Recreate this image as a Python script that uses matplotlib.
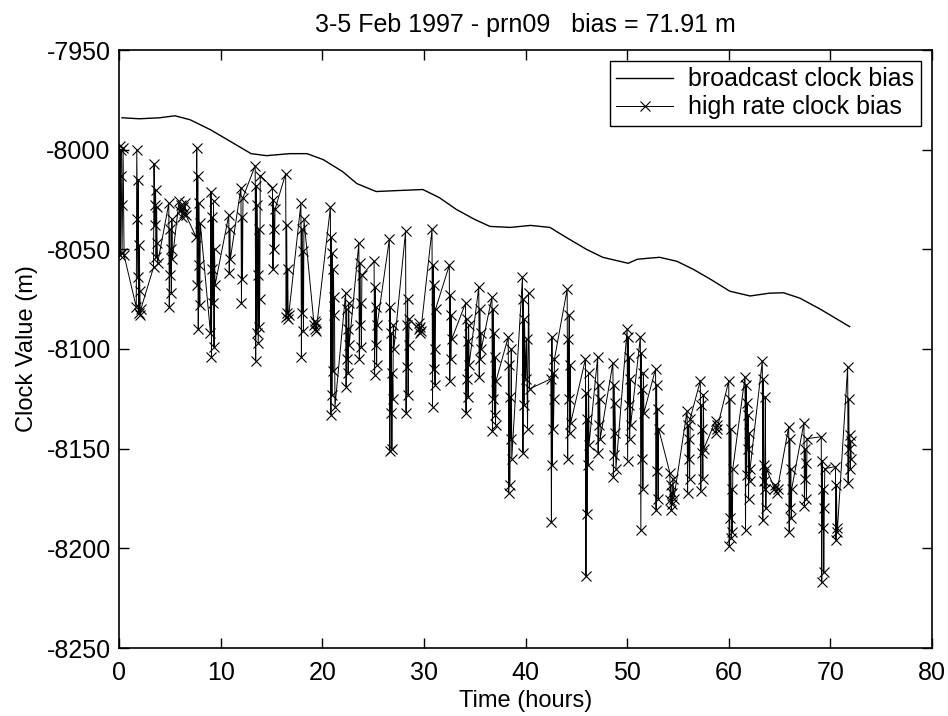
import matplotlib
matplotlib.use("Agg")
import matplotlib.pyplot as plt
from matplotlib.ticker import MultipleLocator

plt.rcParams['font.family'] = ['Liberation Sans', 'DejaVu Sans']
plt.rcParams['axes.unicode_minus'] = False

# broadcast clock bias (hours, metres)
bc_time = [0.3, 2, 4, 5.5, 7, 9, 11, 13, 14.5, 16.8, 18.5, 20.1, 22, 23.4, 25.3,
           27.5, 29.9, 31.5, 33.2, 35, 36.5, 38.5, 40.5, 42.4, 44, 46, 47.6, 50.1,
           51, 52, 53.2, 54.9, 56.5, 58.2, 60.1, 62.1, 64, 65.4, 67, 69, 71.9]
bc_value = [-7984, -7984.5, -7984, -7983, -7985, -7990, -7996, -8002, -8003, -8002,
            -8002, -8005, -8011, -8017, -8021, -8020.5, -8020, -8024, -8030, -8035,
            -8038.5, -8039, -8038, -8039, -8044, -8050, -8054, -8057, -8055, -8054.5,
            -8054, -8056, -8060, -8065, -8071, -8073.4, -8072, -8071.8, -8074.5, -8080,
            -8088.8]

# high rate clock bias (hours, metres)
hr_time = [
    0.05, 0.1, 0.15, 0.2, 0.25, 0.3, 0.4, 0.5,
    1.7, 1.75, 1.8, 1.85, 1.9, 1.95, 2.0, 2.05, 2.1, 2.15,
    3.4, 3.45, 3.5, 3.55, 3.6, 3.65, 3.7, 3.75, 3.8,
    4.9, 4.95, 5.0, 5.05, 5.1, 5.15, 5.2, 5.25,
    5.9, 6.0, 6.1, 6.2, 6.3, 6.4, 6.5, 6.6,
    7.6, 7.65, 7.7, 7.75, 7.8, 7.85, 7.9, 7.95, 8.0,
    9.0, 9.05, 9.1, 9.15, 9.2, 9.25, 9.3, 9.35, 9.4, 9.45,
    10.8, 10.85, 10.9, 10.95,
    12.0, 12.05, 12.1, 12.15, 12.2,
    13.4, 13.45, 13.5, 13.55, 13.6, 13.65, 13.7, 13.75, 13.8, 13.85, 13.9,
    15.1, 15.15, 15.2, 15.25, 15.3, 15.35,
    16.4, 16.45, 16.5, 16.55, 16.6, 16.65, 16.7,
    17.9, 17.95, 18.0, 18.05, 18.1, 18.15, 18.2,
    19.2, 19.25, 19.3, 19.35, 19.4,
    20.8, 20.85, 20.9, 20.95, 21.0, 21.05, 21.1, 21.15, 21.2, 21.25,
    22.3, 22.35, 22.4, 22.45, 22.5, 22.55, 22.6, 22.65,
    23.6, 23.65, 23.7, 23.75, 23.8, 23.85, 23.9,
    25.1, 25.15, 25.2, 25.25, 25.3, 25.35, 25.4,
    26.6, 26.65, 26.7, 26.75, 26.8, 26.85, 26.9, 26.95, 27.0, 27.05,
    28.2, 28.25, 28.3, 28.35, 28.4, 28.45, 28.5, 28.55,
    29.5, 29.55, 29.6, 29.65, 29.7,
    30.8, 30.85, 30.9, 30.95, 31.0, 31.05, 31.1, 31.15,
    32.5, 32.55, 32.6, 32.65, 32.7, 32.75,
    34.1, 34.15, 34.2, 34.25, 34.3, 34.35, 34.4, 34.45,
    35.4, 35.45, 35.5, 35.55, 35.6, 35.65,
    36.7, 36.75, 36.8, 36.85, 36.9, 36.95, 37.0, 37.05, 37.1,
    38.3, 38.35, 38.4, 38.45, 38.5, 38.55, 38.6, 38.65,
    39.7, 39.75, 39.8, 39.85, 39.9, 40.0, 40.1, 40.2, 40.3, 40.4,
    42.5, 42.55, 42.6, 42.65, 42.7, 42.75, 42.8, 42.85,
    44.1, 44.15, 44.2, 44.25, 44.3, 44.35, 44.4, 44.45,
    45.9, 45.95, 46.0, 46.05, 46.1, 46.15, 46.2, 46.25,
    47.1, 47.15, 47.2, 47.25, 47.3, 47.35,
    48.6, 48.65, 48.7, 48.75, 48.8, 48.85, 48.9,
    50.0, 50.05, 50.1, 50.15, 50.2, 50.25, 50.3, 50.35,
    51.3, 51.35, 51.4, 51.45, 51.5, 51.55, 51.6, 51.65,
    52.8, 52.85, 52.9, 52.95, 53.0, 53.05, 53.1,
    54.2, 54.25, 54.3, 54.35, 54.4, 54.45, 54.5, 54.6,
    55.9, 55.95, 56.0, 56.05, 56.1, 56.15, 56.2,
    57.2, 57.25, 57.3, 57.35, 57.4, 57.45, 57.5, 57.55,
    58.7, 58.75, 58.8, 58.85,
    60.0, 60.05, 60.1, 60.15, 60.2, 60.25, 60.3, 60.35, 60.4,
    61.6, 61.65, 61.7, 61.75, 61.8, 61.85, 61.9, 61.95, 62.0, 62.05, 62.1,
    63.3, 63.35, 63.4, 63.45, 63.5, 63.55, 63.6, 63.65, 63.7,
    64.5, 64.6, 64.7, 64.8,
    65.9, 65.95, 66.0, 66.05, 66.1, 66.15, 66.2,
    67.4, 67.45, 67.5, 67.55, 67.6, 67.65, 67.7,
    69.1, 69.15, 69.2, 69.25, 69.3, 69.35, 69.4, 69.45,
    70.5, 70.55, 70.6, 70.65, 70.7,
    71.7, 71.75, 71.8, 71.85, 71.9, 71.95, 72.0, 72.05,
]
hr_value = [
    -7998, -8053, -8013, -8000, -8028, -8052, -7999, -8053,
    -8079, -8000, -8035, -8064, -8015, -8082, -8048, -8071, -8083, -8080,
    -8059, -8007, -8028, -8038, -8020, -8054, -8029, -8047, -8057,
    -8027, -8079, -8040, -8063, -8050, -8072, -8035, -8055,
    -8026, -8031, -8028, -8034, -8029, -8032, -8027, -8033,
    -8044, -7999, -8068, -8013, -8090, -8027, -8058, -8078, -8037,
    -8092, -8021, -8104, -8034, -8060, -8077, -8026, -8099, -8050, -8068,
    -8033, -8062, -8040, -8055,
    -8019, -8077, -8034, -8065, -8024,
    -8008, -8106, -8018, -8092, -8028, -8063, -8097, -8040, -8089, -8075, -8013,
    -8019, -8060, -8025, -8040, -8050, -8030,
    -8012, -8084, -8038, -8082, -8060, -8085, -8083,
    -8027, -8104, -8040, -8082, -8051, -8091, -8035,
    -8088, -8086, -8090, -8087, -8091,
    -8029, -8133, -8044, -8123, -8052, -8111, -8060, -8083, -8074, -8129,
    -8072, -8119, -8080, -8105, -8090, -8112, -8077, -8098,
    -8047, -8105, -8057, -8088, -8077, -8099, -8063,
    -8056, -8113, -8069, -8098, -8079, -8108, -8088,
    -8045, -8151, -8079, -8132, -8092, -8150, -8112, -8125, -8088, -8100,
    -8041, -8132, -8088, -8109, -8075, -8123, -8098, -8085,
    -8090, -8087, -8092, -8089, -8091,
    -8040, -8129, -8058, -8110, -8068, -8100, -8118, -8080,
    -8058, -8116, -8073, -8105, -8083, -8095,
    -8077, -8132, -8085, -8115, -8096, -8124, -8088, -8108,
    -8069, -8114, -8080, -8105, -8092, -8100,
    -8074, -8141, -8080, -8125, -8092, -8133, -8104, -8138, -8116,
    -8094, -8172, -8108, -8168, -8124, -8145, -8100, -8155,
    -8064, -8152, -8075, -8128, -8085, -8115, -8095, -8140, -8072, -8120,
    -8115, -8187, -8094, -8158, -8112, -8140, -8125, -8105,
    -8070, -8155, -8095, -8125, -8083, -8142, -8108, -8137,
    -8105, -8214, -8122, -8183, -8135, -8158, -8112, -8148,
    -8104, -8152, -8118, -8138, -8125, -8145,
    -8107, -8164, -8118, -8153, -8127, -8142, -8160,
    -8090, -8156, -8094, -8128, -8104, -8145, -8115, -8138,
    -8094, -8191, -8102, -8155, -8120, -8170, -8112, -8132,
    -8110, -8181, -8118, -8161, -8130, -8175, -8140,
    -8162, -8176, -8168, -8181, -8172, -8178, -8165, -8175,
    -8131, -8172, -8138, -8155, -8145, -8165, -8135,
    -8116, -8171, -8128, -8152, -8140, -8165, -8123, -8150,
    -8136, -8142, -8138, -8140,
    -8116, -8199, -8125, -8185, -8140, -8195, -8170, -8192, -8160,
    -8114, -8191, -8118, -8163, -8127, -8150, -8133, -8175, -8142, -8166, -8160,
    -8106, -8186, -8115, -8166, -8158, -8170, -8124, -8180, -8160,
    -8170, -8168, -8172, -8170,
    -8139, -8192, -8145, -8180, -8160, -8185, -8170,
    -8137, -8179, -8150, -8165, -8157, -8175, -8145,
    -8144, -8217, -8156, -8190, -8170, -8212, -8180, -8160,
    -8159, -8196, -8168, -8192, -8190,
    -8109, -8167, -8125, -8150, -8143, -8160, -8146, -8155,
]

title_text = "3-5 Feb 1997 - prn09   bias = 71.91 m"

fig = plt.figure(figsize=(9.48, 7.16), dpi=100)
ax = fig.add_axes([119/948, 1 - 648/716, (932 - 119)/948, (648 - 50)/716])

ax.plot(bc_time, bc_value, color='black', linewidth=1.0, label='broadcast clock bias')
ax.plot(hr_time, hr_value, color='black', linewidth=0.7, marker='x', markersize=7,
        markeredgewidth=0.8, label='high rate clock bias')

ax.set_xlim(0, 80)
ax.set_ylim(-8250, -7950)
ax.xaxis.set_major_locator(MultipleLocator(10))
ax.yaxis.set_major_locator(MultipleLocator(50))
ax.tick_params(direction='in', length=7, width=1, top=True, right=True, labelsize=18)
ax.tick_params(axis='x', pad=9)
ax.tick_params(axis='y', pad=6)
for s in ax.spines.values():
    s.set_linewidth(1.2)

ax.set_xlabel('Time (hours)', fontsize=17, labelpad=4)
ax.set_ylabel('Clock Value (m)', fontsize=17, labelpad=6)
ax.set_title(title_text, fontsize=18, pad=13)

leg = ax.legend(loc='upper right', fontsize=18, frameon=True, fancybox=False,
                edgecolor='black', framealpha=1, handlelength=2.3, handletextpad=0.6,
                borderaxespad=0.45, borderpad=0.25, labelspacing=0.15)
leg.get_frame().set_linewidth(1.0)

fig.savefig('out.png', dpi=100)
